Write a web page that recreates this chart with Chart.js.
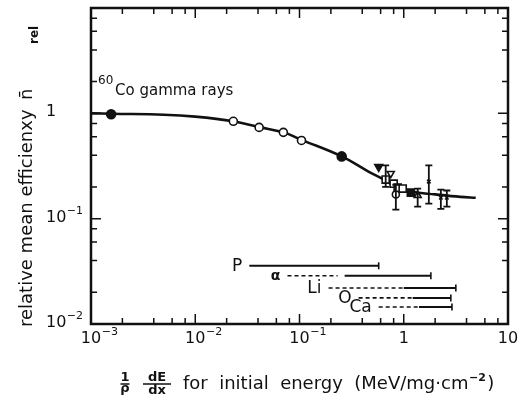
<!DOCTYPE html>
<html>
<head>
<meta charset="utf-8">
<script src="https://cdn.jsdelivr.net/npm/chart.js@4.4.0/dist/chart.umd.min.js"></script>
<style>
  body { margin: 0; background: #fff; }
  #wrap { width: 522px; height: 396px; }
</style>
</head>
<body>
<div id="wrap"><canvas id="chart"></canvas></div>
<script>
// smooth fit through all measurements
const curveX = [0.001, 0.0016, 0.005, 0.01, 0.0232, 0.041, 0.07, 0.1045, 0.254, 0.45, 0.62, 0.85, 1.2, 2, 3.5, 4.9];
const curveY = [1.0, 0.99, 0.97, 0.93, 0.84, 0.74, 0.66, 0.56, 0.39, 0.283, 0.24, 0.20, 0.18, 0.17, 0.161, 0.158];

// electrons / gamma reference points
const filledCircleX = [0.00156, 0.254];
const filledCircleY = [0.98, 0.39];
const openCircleX = [0.0232, 0.041, 0.070, 0.1045];
const openCircleY = [0.84, 0.735, 0.66, 0.553];

// heavy ion points, one pair of arrays per symbol
const triDownFilledX = [0.575];
const triDownFilledY = [0.31];
const triDownOpenX = [0.75];
const triDownOpenY = [0.268];
const squareOpenX = [0.671, 0.80, 0.875, 0.977];
const squareOpenY = [0.235, 0.215, 0.197, 0.193];
const squareFilledX = [1.17];
const squareFilledY = [0.177];
const circleIonX = [0.84];
const circleIonY = [0.17];
const triUpOpenX = [1.36];
const triUpOpenY = [0.166];
const crossX = [1.74, 2.27, 2.59];
const crossY = [0.225, 0.158, 0.158];

// error bars
const errX = [0.671, 0.84, 1.36, 1.74, 2.27, 2.59];
const errLow = [0.20, 0.122, 0.13, 0.139, 0.124, 0.13];
const errHigh = [0.32, 0.21, 0.193, 0.32, 0.189, 0.185];

// stopping power ranges of the ions
const rangeIons = ['P', 'α', 'Li', 'O', 'Ca'];
const rangeY = [0.0357, 0.0287, 0.022, 0.0177, 0.0145];
const dashFrom = [null, 0.0767, 0.19, 0.369, 0.575];
const dashTo = [null, 0.232, 1.0, 1.22, 1.4];
const solidFrom = [0.033, 0.271, 1.0, 1.22, 1.4];
const solidTo = [0.575, 1.82, 3.16, 2.83, 2.9];

// axis labels: base and exponent
const xTickValues = [0.001, 0.01, 0.1, 1, 10];
const xTickBase = ['10', '10', '10', '1', '10'];
const xTickExp = ['-3', '-2', '-1', '', ''];
const yTickValues = [0.01, 0.1, 1];
const yTickBase = ['10', '10', '1'];
const yTickExp = ['-2', '-1', ''];

const INK = '#111';
const FONT = '"DejaVu Sans", sans-serif';

const pts = (xs, ys) => xs.map((x, i) => ({ x: x, y: ys[i] }));

function marker(xs, ys, style, radius, filled, rotation) {
  return {
    data: pts(xs, ys),
    pointStyle: style,
    pointRadius: radius,
    pointRotation: rotation || 0,
    pointBorderWidth: 1.6,
    pointBorderColor: INK,
    pointBackgroundColor: filled ? INK : '#fff',
    showLine: false,
    order: 1
  };
}

const datasets = [
  marker(filledCircleX, filledCircleY, 'circle', 4.5, true),
  marker(openCircleX, openCircleY, 'circle', 4, false),
  marker(triDownFilledX, triDownFilledY, 'triangle', 4.5, true, 180),
  marker(triDownOpenX, triDownOpenY, 'triangle', 4, false, 180),
  marker(squareOpenX, squareOpenY, 'rect', 5, false),
  marker(squareFilledX, squareFilledY, 'rect', 5, true),
  marker(circleIonX, circleIonY, 'circle', 3.5, false),
  marker(triUpOpenX, triUpOpenY, 'triangle', 4, false),
  marker(crossX, crossY, 'crossRot', 2.5, false),
  {
    data: pts(curveX, curveY),
    showLine: true,
    borderColor: INK,
    borderWidth: 2.6,
    tension: 0.4,
    pointRadius: 0,
    order: 5
  }
];

rangeIons.forEach((ion, i) => {
  if (dashFrom[i] !== null) {
    datasets.push({
      data: [{ x: dashFrom[i], y: rangeY[i] }, { x: dashTo[i], y: rangeY[i] }],
      showLine: true,
      borderColor: INK,
      borderWidth: 1.6,
      borderDash: [4, 3],
      pointRadius: 0,
      order: 5
    });
  }
  datasets.push({
    data: [{ x: solidFrom[i], y: rangeY[i] }, { x: solidTo[i], y: rangeY[i] }],
    showLine: true,
    borderColor: INK,
    borderWidth: 2,
    pointStyle: 'line',
    pointRotation: 90,
    pointRadius: [0, 3.5],
    pointBorderWidth: 1.6,
    pointBorderColor: INK,
    order: 5
  });
});

// base number with raised exponent; align 'center' centres the base on x
function drawPow(ctx, base, exp, x, y, align) {
  ctx.font = '16px ' + FONT;
  ctx.textBaseline = 'middle';
  ctx.textAlign = 'left';
  const w = ctx.measureText(base).width;
  const left = align === 'center' ? x - w / 2 : x;
  ctx.fillText(base, left, y);
  if (exp) {
    ctx.font = '11px ' + FONT;
    ctx.fillText(exp.replace('-', '\u2212'), left + w + 0.5, y - 7);
  }
}

function logTicks(min, max) {
  const out = [];
  for (let k = Math.round(Math.log10(min)); Math.pow(10, k) <= max * 1.0001; k++) {
    const d = Math.pow(10, k);
    out.push({ v: d, major: true });
    [2, 4, 6, 8].forEach(m => { if (m * d < max) out.push({ v: m * d, major: false }); });
  }
  return out;
}

const decor = {
  id: 'decor',
  afterDatasetsDraw(chart) {
    const { ctx, chartArea: a, scales: { x, y } } = chart;
    ctx.save();
    ctx.strokeStyle = INK;
    ctx.fillStyle = INK;

    // error bars
    ctx.lineWidth = 1.8;
    errX.forEach((v, i) => {
      const px = x.getPixelForValue(v);
      const lo = y.getPixelForValue(errLow[i]);
      const hi = y.getPixelForValue(errHigh[i]);
      ctx.beginPath();
      ctx.moveTo(px, lo); ctx.lineTo(px, hi);
      ctx.moveTo(px - 3.5, lo); ctx.lineTo(px + 3.5, lo);
      ctx.moveTo(px - 3.5, hi); ctx.lineTo(px + 3.5, hi);
      ctx.stroke();
    });

    // frame
    ctx.lineWidth = 2.5;
    ctx.strokeRect(a.left, a.top, a.right - a.left, a.bottom - a.top);

    // inward ticks on all four sides
    ctx.lineWidth = 1.5;
    ctx.beginPath();
    logTicks(x.min, x.max).forEach(t => {
      const px = x.getPixelForValue(t.v);
      const len = t.major ? 10 : 6;
      ctx.moveTo(px, a.bottom); ctx.lineTo(px, a.bottom - len);
      ctx.moveTo(px, a.top); ctx.lineTo(px, a.top + len);
    });
    logTicks(y.min, y.max).forEach(t => {
      const py = y.getPixelForValue(t.v);
      const len = t.major ? 10 : 6;
      ctx.moveTo(a.left, py); ctx.lineTo(a.left + len, py);
      ctx.moveTo(a.right, py); ctx.lineTo(a.right - len, py);
    });
    ctx.stroke();

    // tick labels
    xTickValues.forEach((v, i) => drawPow(ctx, xTickBase[i], xTickExp[i], x.getPixelForValue(v), a.bottom + 15, 'center'));
    yTickValues.forEach((v, i) => drawPow(ctx, yTickBase[i], yTickExp[i], 46, y.getPixelForValue(v) - 1, 'left'));

    // ion names left of their ranges
    ctx.textBaseline = 'middle';
    ctx.textAlign = 'right';
    rangeIons.forEach((ion, i) => {
      const start = dashFrom[i] !== null ? dashFrom[i] : solidFrom[i];
      ctx.font = ion === 'α' ? 'bold 14px ' + FONT : '17px ' + FONT;
      ctx.fillText(ion, x.getPixelForValue(start) - 7, y.getPixelForValue(rangeY[i]) + 1);
    });

    // 60Co label
    ctx.textAlign = 'left';
    ctx.font = '12px ' + FONT;
    ctx.fillText('60', 98, 81);
    ctx.font = '15px ' + FONT;
    ctx.fillText('Co gamma rays', 115, 91);

    // y title
    ctx.save();
    ctx.translate(32, 327);
    ctx.rotate(-Math.PI / 2);
    ctx.textBaseline = 'alphabetic';
    ctx.font = '18px ' + FONT;
    ctx.fillText('relative mean efficienxy', 0, 0);
    ctx.fillText('n\u0304', 227, 0);
    ctx.font = 'bold 12px ' + FONT;
    ctx.fillText('rel', 283, 6);
    ctx.restore();

    // x title: 1/rho dE/dx for initial energy ...
    ctx.textAlign = 'center';
    ctx.textBaseline = 'alphabetic';
    ctx.font = 'bold 13px ' + FONT;
    ctx.fillText('1', 125, 381);
    ctx.fillText('ρ', 125, 392);
    ctx.fillText('dE', 157, 381);
    ctx.fillText('dx', 157, 394);
    ctx.lineWidth = 1.5;
    ctx.beginPath();
    ctx.moveTo(120.5, 384); ctx.lineTo(129.5, 384);
    ctx.moveTo(143, 384); ctx.lineTo(171, 384);
    ctx.stroke();

    ctx.textAlign = 'left';
    ctx.font = '18px ' + FONT;
    const main = 'for  initial  energy  (MeV/mg·cm';
    ctx.fillText(main, 183, 389);
    let cx = 183 + ctx.measureText(main).width + 0.5;
    ctx.font = 'bold 11px ' + FONT;
    ctx.fillText('\u22122', cx, 381);
    cx += ctx.measureText('\u22122').width + 1.5;
    ctx.font = '18px ' + FONT;
    ctx.fillText(')', cx, 389);

    ctx.restore();
  }
};

new Chart(document.getElementById('chart'), {
  type: 'scatter',
  data: { datasets: datasets },
  options: {
    responsive: true,
    maintainAspectRatio: false,
    animation: false,
    layout: { padding: { top: 8, right: 14, left: 0, bottom: 0 } },
    plugins: { legend: { display: false }, tooltip: { enabled: false } },
    scales: {
      x: {
        type: 'logarithmic', min: 0.001, max: 10,
        grid: { display: false }, border: { display: false },
        ticks: { display: false },
        afterFit: s => { s.height = 72; }
      },
      y: {
        type: 'logarithmic', min: 0.01, max: 10,
        grid: { display: false }, border: { display: false },
        ticks: { display: false },
        afterFit: s => { s.width = 91; }
      }
    }
  },
  plugins: [decor]
});
</script>
</body>
</html>
